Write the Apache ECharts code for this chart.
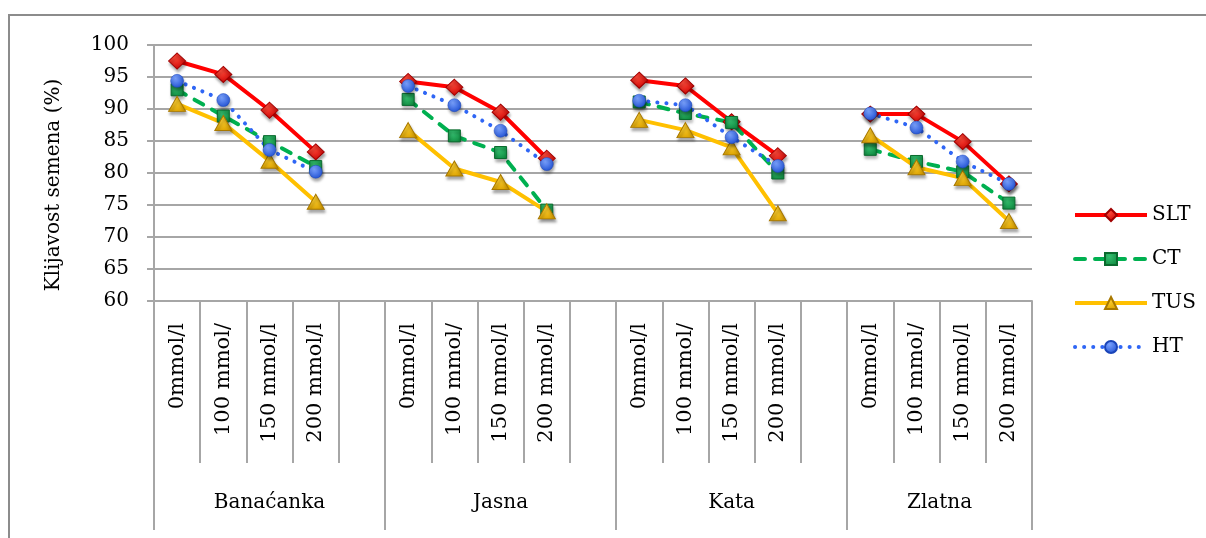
<!DOCTYPE html>
<html>
<head>
<meta charset="utf-8">
<script src="https://cdn.jsdelivr.net/npm/echarts@6/dist/echarts.min.js"></script>
<style>
html,body{margin:0;padding:0;background:#fff;}
#chart{width:1206px;height:538px;}
</style>
</head>
<body>
<div id="chart"></div>
<script>
// ---- data ----
const groups = ['Banaćanka', 'Jasna', 'Kata', 'Zlatna'];
const concentrations = ['0mmol/l', '100 mmol/', '150 mmol/l', '200 mmol/l'];
const yTicks = [60, 65, 70, 75, 80, 85, 90, 95, 100];
const SLT = [97.5, 95.4, 89.8, 83.3, 94.3, 93.4, 89.5, 82.3, 94.5, 93.6, 88.0, 82.7, 89.2, 89.2, 84.9, 78.3];
const CT  = [93.0, 88.9, 84.9, 81.0, 91.5, 85.8, 83.2, 74.2, 91.1, 89.3, 87.9, 80.0, 83.7, 81.8, 80.2, 75.3];
const TUS = [90.8, 87.8, 81.9, 75.5, 86.7, 80.7, 78.6, 74.0, 88.3, 86.7, 84.0, 73.7, 85.9, 80.9, 79.2, 72.5];
const HT  = [94.4, 91.4, 83.6, 80.2, 93.6, 90.6, 86.6, 81.4, 91.3, 90.6, 85.6, 81.1, 89.3, 87.1, 81.8, 78.3];

// build flat category list: 4 concentrations per group + empty spacer (except after last group)
const cats = [];
const groupStart = [];
const groupCenter = [];
groups.forEach((g, gi) => {
  groupStart.push(cats.length);
  concentrations.forEach(c => cats.push(c));
  const last = gi === groups.length - 1;
  groupCenter.push(groupStart[gi] + (last ? concentrations.length : concentrations.length + 1) / 2);
  if (!last) cats.push('');
});
groupStart.push(cats.length);
function expand(vals) {
  const out = [];
  groups.forEach((g, gi) => {
    for (let i = 0; i < concentrations.length; i++) out.push(vals[gi * concentrations.length + i]);
    if (gi < groups.length - 1) out.push(null);
  });
  return out;
}

const FONT = 'DejaVu Serif';
const GRID = '#a6a6a6';
const GW = 2;
const shadow = {shadowColor: 'rgba(0,0,0,0.35)', shadowBlur: 3, shadowOffsetX: 1, shadowOffsetY: 3};
function rg(c1, c2) {
  return {type: 'radial', x: 0.38, y: 0.32, r: 0.75, colorStops: [{offset: 0, color: c1}, {offset: 1, color: c2}]};
}

const chart = echarts.init(document.getElementById('chart'), null, {renderer: 'canvas'});
chart.setOption({
  animation: false,
  textStyle: {fontFamily: FONT},
  graphic: [{
    type: 'rect', silent: true, z: -10,
    shape: {x: 9, y: 15, width: 1400, height: 700},
    style: {fill: 'none', stroke: '#8c8c8c', lineWidth: 2}
  }],
  grid: {left: 154, top: 45, width: 878, bottom: 237, containLabel: false},
  legend: {
    orient: 'vertical', left: 1073, top: 205, padding: 0,
    itemWidth: 72, itemHeight: 15, itemGap: 24,
    lineStyle: {width: 4},
    textStyle: {fontFamily: FONT, fontSize: 20, color: '#000'},
    data: ['SLT', 'CT', 'TUS', 'HT']
  },
  xAxis: [{
    type: 'category', data: cats, boundaryGap: true, position: 'bottom',
    axisLine: {show: true, lineStyle: {color: GRID, width: GW}},
    axisTick: {show: true, interval: 0, alignWithLabel: false, length: 162, lineStyle: {color: GRID, width: GW}},
    axisLabel: {interval: 0, rotate: 90, margin: 22, fontFamily: FONT, fontSize: 21, color: '#000'},
    splitLine: {show: false}
  }, {
    type: 'value', min: 0, max: cats.length, position: 'bottom',
    axisLine: {show: false},
    axisTick: {show: true, customValues: groupStart, length: 229, lineStyle: {color: GRID, width: GW}},
    axisLabel: {
      customValues: groupCenter, margin: 192, fontFamily: FONT, fontSize: 20, color: '#000',
      formatter: v => { const i = groupCenter.indexOf(v); return i >= 0 ? groups[i] : ''; }
    },
    splitLine: {show: false}
  }],
  yAxis: {
    type: 'value', min: yTicks[0], max: yTicks[yTicks.length - 1], interval: 5,
    name: 'Klijavost semena (%)', nameLocation: 'middle', nameGap: 90,
    nameTextStyle: {fontFamily: FONT, fontSize: 20, color: '#000', padding: [0, 24, 0, 0]},
    axisLine: {show: true, lineStyle: {color: GRID, width: GW}},
    axisTick: {show: true, length: 7, lineStyle: {color: GRID, width: GW}},
    axisLabel: {margin: 25, fontFamily: FONT, fontSize: 20, color: '#000'},
    splitLine: {show: true, lineStyle: {color: GRID, width: GW}}
  },
  series: [{
    name: 'SLT', type: 'line', data: expand(SLT), connectNulls: false,
    symbol: 'diamond', symbolSize: [17, 16],
    lineStyle: {color: '#FF0000', width: 4},
    itemStyle: Object.assign({color: rg('#ff4a3a', '#c80000'), borderColor: '#a00000', borderWidth: 1}, shadow),
    color: '#FF0000'
  }, {
    name: 'CT', type: 'line', data: expand(CT), connectNulls: false,
    symbol: 'rect', symbolSize: 12,
    lineStyle: {color: '#00B050', width: 4, type: [10, 10], cap: 'round'},
    itemStyle: Object.assign({color: rg('#35c070', '#108a40'), borderColor: '#0a6a2e', borderWidth: 1}, shadow),
    color: '#00B050'
  }, {
    name: 'TUS', type: 'line', data: expand(TUS), connectNulls: false,
    symbol: 'triangle', symbolSize: [17, 15],
    lineStyle: {color: '#FFC000', width: 4},
    itemStyle: Object.assign({color: rg('#ffd030', '#d9a000'), borderColor: '#a87800', borderWidth: 1}, shadow),
    color: '#FFC000'
  }, {
    name: 'HT', type: 'line', data: expand(HT), connectNulls: false,
    symbol: 'circle', symbolSize: 13,
    lineStyle: {color: '#2F66F5', width: 4, type: [0.1, 9], cap: 'round'},
    itemStyle: Object.assign({color: rg('#7aa2ff', '#1f4fd0'), borderColor: '#1a44b8', borderWidth: 0.5}, shadow),
    color: '#2F66F5'
  }]
});
</script>
</body>
</html>
